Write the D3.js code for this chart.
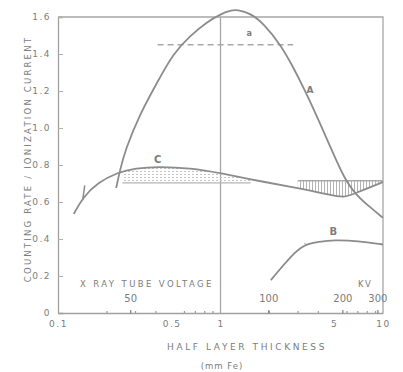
<!DOCTYPE html>
<html>
<head>
<meta charset="utf-8">
<script src="https://cdn.jsdelivr.net/npm/d3@7"></script>
<style>
  html, body { margin: 0; padding: 0; background: #fff; }
  svg { display: block; }
  text { font-family: "DejaVu Sans", sans-serif; fill: #7c7c7c; }
</style>
</head>
<body>
<svg id="chart" width="403" height="372"></svg>
<script>
// ---- data ----
// half layer thickness (mm Fe), counting rate / ionization current
const curveA_x = [0.228, 0.241, 0.259, 0.321, 0.404, 0.513, 0.653, 0.831, 1.0, 1.15, 1.27, 1.53, 1.84, 2.35, 2.82, 3.25, 3.97, 4.77, 5.75, 6.81, 8.43, 10];
const curveA_y = [0.676, 0.773, 0.881, 1.08, 1.24, 1.405, 1.50, 1.575, 1.615, 1.635, 1.64, 1.62, 1.565, 1.449, 1.324, 1.216, 1.054, 0.892, 0.730, 0.638, 0.568, 0.514];
const curveC_x = [0.125, 0.143, 0.174, 0.235, 0.30, 0.408, 0.653, 1.0, 1.84, 2.99, 4.77, 5.75, 6.81, 8.43, 10];
const curveC_y = [0.535, 0.627, 0.703, 0.762, 0.782, 0.792, 0.784, 0.757, 0.708, 0.676, 0.638, 0.622, 0.649, 0.681, 0.708];
const curveB_x = [2.04, 2.99, 3.5, 3.97, 5.0, 7.0, 10];
const curveB_y = [0.178, 0.351, 0.375, 0.384, 0.395, 0.39, 0.37];

// reference levels (hatched bands)
const bandA = { x0: 0.41, x1: 2.8, level: 1.45 };
const bandCleft = { x0: 0.249, x1: 1.53, level: 0.703 };
const bandCright = { x0: 2.99, x1: 10, level: 0.715 };
const bandB = { x0: 3.2, x1: 10, level: 0.385 };

// axis ticks
const yTicks = [0, 0.2, 0.4, 0.6, 0.8, 1.0, 1.2, 1.4, 1.6];
const yTickLabels = ["0", "0.2", "0.4", "0.6", "0.8", "1.0", "1.2", "1.4", "1.6"];
const xTicks = [0.1, 0.5, 1, 5, 10];
const xTickLabels = ["0.1", "0.5", "1", "5", "10"];
const xMinorTicks = [0.2, 0.3, 0.4, 0.6, 0.7, 0.8, 0.9, 2, 3, 4, 6, 7, 8, 9];
// secondary scale: X-ray tube voltage (kV) at equivalent half layer thickness
const kvLabels = ["50", "100", "200", "300"];
const kvAtHLT = [0.28, 1.98, 5.66, 9.3];

// ---- drawing ----
const svg = d3.select("#chart");
const x = d3.scaleLog().domain([0.1, 10]).range([58, 383]);
const y = d3.scaleLinear().domain([0, 1.6]).range([313, 17]);
const lineCol = "#8c8c8c";

const defs = svg.append("defs");
const hatch = defs.append("pattern").attr("id", "hatch").attr("patternUnits", "userSpaceOnUse")
  .attr("width", 3).attr("height", 4);
hatch.append("rect").attr("x", 0).attr("y", 0).attr("width", 1).attr("height", 4).attr("fill", "#b4b4b4");
const dots = defs.append("pattern").attr("id", "dots").attr("patternUnits", "userSpaceOnUse")
  .attr("width", 4).attr("height", 3);
dots.append("rect").attr("x", 0).attr("y", 0).attr("width", 2).attr("height", 1).attr("fill", "#c4c4c4");

const zipA = curveA_x.map((v, i) => [v, curveA_y[i]]);
const zipC = curveC_x.map((v, i) => [v, curveC_y[i]]);
const zipB = curveB_x.map((v, i) => [v, curveB_y[i]]);

const smooth = d3.curveBasis;
const line = d3.line().x(d => x(d[0])).y(d => y(d[1])).curve(smooth);

// frame
svg.append("path")
  .attr("d", `M${x(0.1)},${y(1.6)} L${x(10)},${y(1.6)} L${x(10)},${y(0)}`)
  .attr("fill", "none").attr("stroke", "#a6a6a6").attr("stroke-width", 1.3);

// vertical line at 1
svg.append("line").attr("x1", x(1)).attr("x2", x(1)).attr("y1", y(1.6)).attr("y2", y(0))
  .attr("stroke", "#a6a6a6").attr("stroke-width", 1.3);

// axes
const yAxis = d3.axisLeft(y).tickValues(yTicks).tickFormat((d, i) => yTickLabels[i]).tickSize(-5).tickPadding(7);
const gy = svg.append("g").attr("transform", `translate(${x(0.1)},0)`).call(yAxis);
gy.select(".domain").attr("stroke", "#a0a0a0").attr("stroke-width", 1.3);
gy.selectAll(".tick line").attr("stroke", "#b0b0b0");
gy.selectAll(".tick text").style("font-size", "9px").style("letter-spacing", "1.5px").attr("fill", "#7c7c7c");

const xAxis = d3.axisBottom(x).tickValues(xTicks).tickFormat((d, i) => xTickLabels[i]).tickSize(0).tickPadding(8);
const gx = svg.append("g").attr("transform", `translate(0,${y(0)})`).call(xAxis);
gx.select(".domain").attr("stroke", "#a0a0a0").attr("stroke-width", 1.3);
gx.selectAll(".tick text").style("font-size", "9px").style("letter-spacing", "1.5px").attr("fill", "#7c7c7c");

svg.append("g").selectAll("line").data(xMinorTicks).join("line")
  .attr("x1", d => x(d)).attr("x2", d => x(d)).attr("y1", y(0) - 2).attr("y2", y(0))
  .attr("stroke", "#9a9a9a").attr("stroke-width", 1.2);

// kV secondary labels and + ticks
const kv = svg.append("g");
kv.selectAll("line").data(kvAtHLT).join("line")
  .attr("x1", d => x(d)).attr("x2", d => x(d)).attr("y1", y(0) - 3).attr("y2", y(0) + 1)
  .attr("stroke", "#8a8a8a").attr("stroke-width", 1.3);
kv.selectAll("text").data(kvAtHLT).join("text")
  .attr("x", d => x(d)).attr("y", y(0) - 11).attr("text-anchor", "middle")
  .style("font-size", "10px").text((d, i) => kvLabels[i]);
svg.append("text").attr("x", 80).attr("y", 287).style("font-size", "8.5px")
  .style("letter-spacing", "2.4px").text("X RAY TUBE VOLTAGE");
svg.append("text").attr("x", 358).attr("y", 287).style("font-size", "8.5px")
  .style("letter-spacing", "1.5px").text("KV");

// hatched bands (clipped areas between curve and level)
function band(data, b, fill) {
  const id = "clip" + Math.round(b.x0 * 1000) + "_" + Math.round(b.level * 1000);
  defs.append("clipPath").attr("id", id).append("rect")
    .attr("x", x(b.x0)).attr("y", 0).attr("width", x(b.x1) - x(b.x0)).attr("height", 372);
  const area = d3.area().x(d => x(d[0])).y0(y(b.level)).y1(d => y(d[1])).curve(smooth);
  svg.append("path").attr("d", area(data)).attr("fill", fill).attr("clip-path", `url(#${id})`);
}
band(zipC, bandCleft, "url(#dots)");
band(zipC, bandCright, "url(#hatch)");
band(zipB, bandB, "url(#dots)");

// level lines
svg.append("line").attr("x1", x(bandA.x0)).attr("x2", x(bandA.x1)).attr("y1", y(bandA.level)).attr("y2", y(bandA.level))
  .attr("stroke", "#a8a8a8").attr("stroke-width", 1.4).attr("stroke-dasharray", "6,4");
svg.append("line").attr("x1", x(bandCleft.x0)).attr("x2", x(bandCleft.x1)).attr("y1", y(bandCleft.level)).attr("y2", y(bandCleft.level))
  .attr("stroke", "#b4b4b4").attr("stroke-width", 1.2);
svg.append("line").attr("x1", x(bandCright.x0)).attr("x2", x(bandCright.x1)).attr("y1", y(bandCright.level)).attr("y2", y(bandCright.level))
  .attr("stroke", "#a8a8a8").attr("stroke-width", 1.4);

// curves
[zipC, zipB, zipA].forEach(d => {
  svg.append("path").attr("d", line(d)).attr("fill", "none")
    .attr("stroke", lineCol).attr("stroke-width", 1.8);
});
// small marker near start of C
svg.append("line").attr("x1", x(0.142)).attr("x2", x(0.146)).attr("y1", y(0.61)).attr("y2", y(0.69))
  .attr("stroke", lineCol).attr("stroke-width", 1.5);

// curve labels
const lab = (t, px, py, fs) => svg.append("text").attr("x", x(px)).attr("y", y(py))
  .attr("text-anchor", "middle").style("font-size", fs + "px").style("font-weight", "bold").text(t);
lab("A", 3.55, 1.19, 9);
lab("C", 0.41, 0.81, 10);
lab("B", 4.95, 0.42, 10);
lab("a", 1.5, 1.50, 8);

// axis titles
svg.append("text").attr("x", 247).attr("y", 350).attr("text-anchor", "middle")
  .style("font-size", "9px").style("letter-spacing", "2.6px").text("HALF LAYER THICKNESS");
svg.append("text").attr("x", 222).attr("y", 369).attr("text-anchor", "middle")
  .style("font-size", "8.5px").style("letter-spacing", "1px").text("(mm Fe)");
svg.append("text").attr("transform", "translate(31,159) rotate(-90)").attr("text-anchor", "middle")
  .style("font-size", "8.5px").style("letter-spacing", "2.2px").text("COUNTING RATE / IONIZATION CURRENT");
</script>
</body>
</html>
